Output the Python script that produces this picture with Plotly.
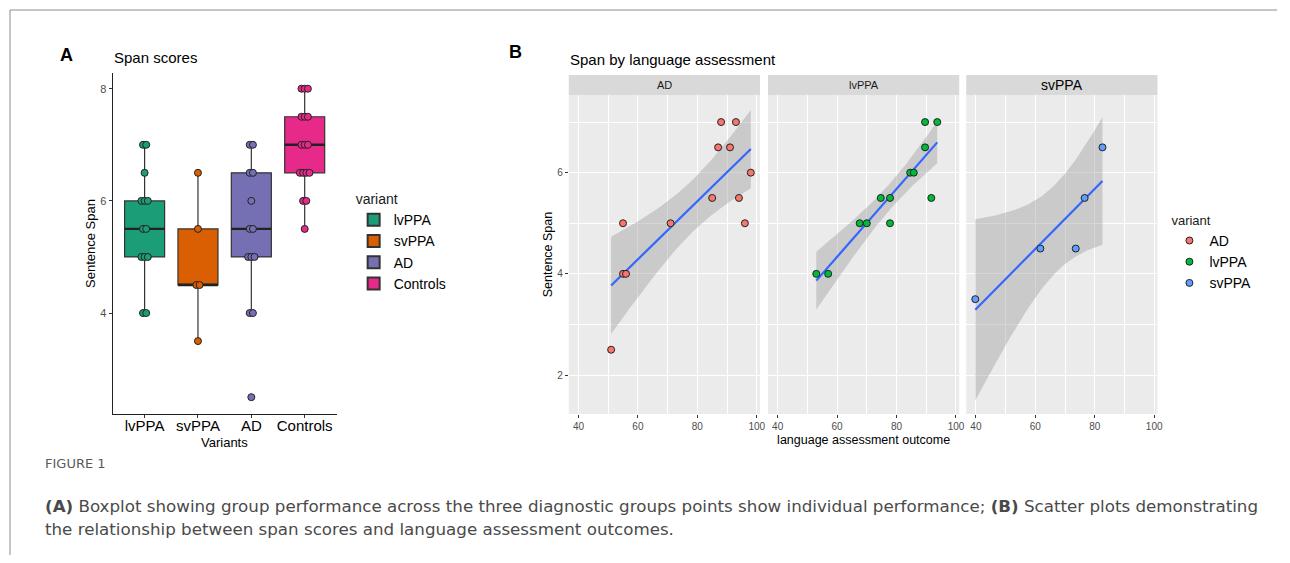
import numpy as np
import plotly.graph_objects as go

# page body has an 8px margin on every side; figure fills the rest of the 1290x563 window
OFF = 8
W, H = 1290 - 2 * OFF, 563 - 2 * OFF

# ---------------- DATA ----------------
# Panel A: sentence span per group
groups = ["lvPPA", "svPPA", "AD", "Controls"]
span_lvppa = [7, 7, 6.5, 6, 6, 6, 5.5, 5.5, 5, 5, 5, 4, 4]
span_svppa = [6.5, 5.5, 4.5, 4.5, 3.5]
span_ad = [7, 7, 6.5, 6.5, 6, 5.5, 5.5, 5, 5, 5, 4, 4, 2.5]
span_controls = [8, 8, 8, 7.5, 7.5, 7.5, 7, 7, 7, 6.5, 6.5, 6.5, 6.5, 6, 6, 5.5]
group_colors = ["#1B9E77", "#D95F02", "#7570B3", "#E7298A"]
yticks_a = [4, 6, 8]

# Panel B: language assessment outcome vs span, per variant
facets = ["AD", "lvPPA", "svPPA"]
ad_lang = [55, 55, 56, 51, 71, 85, 87, 88, 91, 93, 94, 96, 98]
ad_span = [5, 4, 4, 2.5, 5, 5.5, 6.5, 7, 6.5, 7, 5.5, 5, 6]
lv_lang = [53, 57, 67.6, 70, 74.7, 77.8, 77.8, 84.6, 85.8, 89.6, 89.6, 93.7, 91.7]
lv_span = [4, 4, 5, 5, 5.5, 5.5, 5, 6, 6, 6.5, 7, 7, 5.5]
sv_lang = [39.8, 61.7, 73.6, 76.6, 82.6]
sv_span = [3.5, 4.5, 4.5, 5.5, 6.5]
facet_colors = ["#F8766D", "#00BA38", "#619CFF"]
xticks_b = [40, 60, 80, 100]
yticks_b = [2, 4, 6]

# two-sided 95% t quantiles by degrees of freedom
t95 = {1: 12.706, 2: 4.303, 3: 3.182, 4: 2.776, 5: 2.571, 6: 2.447, 7: 2.365,
       8: 2.306, 9: 2.262, 10: 2.228, 11: 2.201, 12: 2.179, 13: 2.160, 14: 2.145}

caption_label = "FIGURE 1"
caption_1 = ("<b>(A)</b> Boxplot showing group performance across the three diagnostic groups points "
             "show individual performance; <b>(B)</b> Scatter plots demonstrating")
caption_2 = "the relationship between span scores and language assessment outcomes."


def fx(p):
    return (p - OFF) / W


def fy(p):
    return 1 - (p - OFF) / H


fig = go.Figure()

# ---------------- PANEL A ----------------
spans = [span_lvppa, span_svppa, span_ad, span_controls]
for i, (g, vals, col) in enumerate(zip(groups, spans, group_colors)):
    v = np.array(vals, dtype=float)
    q1, med, q3 = np.percentile(v, [25, 50, 75])
    iqr = q3 - q1
    lo = v[v >= q1 - 1.5 * iqr].min()
    hi = v[v <= q3 + 1.5 * iqr].max()
    fig.add_trace(go.Box(
        x=[i], q1=[q1], median=[med], q3=[q3], lowerfence=[lo], upperfence=[hi],
        width=0.75, whiskerwidth=0, fillcolor=col, line=dict(color="#333333", width=1.2),
        name=g, boxpoints=False, xaxis="x", yaxis="y", legend="legend", hoverinfo="skip"))
    # thicker median line
    fig.add_trace(go.Scatter(x=[i - 0.375, i + 0.375], y=[med, med], mode="lines",
                             line=dict(color="#222222", width=2.4), showlegend=False,
                             xaxis="x", yaxis="y", hoverinfo="skip"))
    # jittered individual points
    xs = []
    counts = {}
    for val in vals:
        counts[val] = counts.get(val, 0) + 1
    seen = {}
    for val in vals:
        k = seen.get(val, 0)
        seen[val] = k + 1
        m = counts[val]
        xs.append(i + (k - (m - 1) / 2) * 0.06)
    fig.add_trace(go.Scatter(x=xs, y=vals, mode="markers",
                             marker=dict(color=col, size=7, line=dict(color="#222222", width=1)),
                             showlegend=False, xaxis="x", yaxis="y", hoverinfo="skip"))

# ---------------- PANEL B ----------------
panel_px = [(571, 763), (771, 963), (970, 1162)]
data_b = [(ad_lang, ad_span), (lv_lang, lv_span), (sv_lang, sv_span)]
for j, (name, (xv, yv), col) in enumerate(zip(facets, data_b, facet_colors)):
    ax = "x%d" % (j + 2)
    ay = "y%d" % (j + 2)
    x = np.array(xv, dtype=float)
    y = np.array(yv, dtype=float)
    n = len(x)
    b, a = np.polyfit(x, y, 1)
    res = y - (a + b * x)
    s = np.sqrt((res ** 2).sum() / (n - 2))
    sxx = ((x - x.mean()) ** 2).sum()
    grid = np.linspace(x.min(), x.max(), 80)
    fit = a + b * grid
    se = s * np.sqrt(1 / n + (grid - x.mean()) ** 2 / sxx)
    t = t95[n - 2]
    up, dn = fit + t * se, fit - t * se
    fig.add_trace(go.Scatter(x=np.concatenate([grid, grid[::-1]]),
                             y=np.concatenate([up, dn[::-1]]), fill="toself",
                             fillcolor="rgba(153,153,153,0.4)", line=dict(width=0),
                             mode="lines", showlegend=False, xaxis=ax, yaxis=ay, hoverinfo="skip"))
    fig.add_trace(go.Scatter(x=grid, y=fit, mode="lines", line=dict(color="#3366FF", width=2.2),
                             showlegend=False, xaxis=ax, yaxis=ay, hoverinfo="skip"))
    fig.add_trace(go.Scatter(x=xv, y=yv, mode="markers", name=name,
                             marker=dict(color=col, size=7, line=dict(color="#222222", width=1)),
                             showlegend=True, legend="legend2", xaxis=ax, yaxis=ay))

# ---------------- LAYOUT ----------------
tick_font_a = dict(family="Liberation Sans", size=11, color="#4D4D4D")
layout = dict(
    width=W, height=H, margin=dict(l=0, r=0, t=0, b=0),
    paper_bgcolor="white", plot_bgcolor="rgba(0,0,0,0)",
    font=dict(family="Liberation Sans", color="#1A1A1A"),
    showlegend=True,
    xaxis=dict(domain=[fx(113), fx(338)], range=[-0.6, 3.6], anchor="y",
               tickvals=list(range(len(groups))), ticktext=groups,
               tickfont=dict(family="Liberation Sans", size=15, color="#000000"),
               showline=True, linecolor="#222222", linewidth=1, ticks="outside", ticklen=3,
               tickcolor="#333333", showgrid=False, zeroline=False, ticklabelstandoff=-5),
    yaxis=dict(domain=[fy(414), fy(73)], range=[2.2, 8.28], anchor="x",
               tickvals=yticks_a, tickfont=tick_font_a,
               showline=True, linecolor="#222222", linewidth=1, ticks="outside", ticklen=3,
               tickcolor="#333333", showgrid=False, zeroline=False,
               title=dict(text="Sentence Span", font=dict(size=13, color="#000000"), standoff=1)),
    legend=dict(x=fx(355), y=fy(186), xanchor="left", yanchor="top",
                title=dict(text="variant", font=dict(size=14, color="#1A1A1A")),
                font=dict(size=14, color="#000000"), bgcolor="rgba(0,0,0,0)",
                tracegroupgap=0, itemsizing="constant"),
    legend2=dict(x=fx(1174), y=fy(208), xanchor="left", yanchor="top",
                 title=dict(text="variant", font=dict(size=13, color="#1A1A1A")),
                 font=dict(size=14, color="#000000"), bgcolor="rgba(0,0,0,0)"),
)

shapes = []
annotations = []
for j, (p0, p1) in enumerate(panel_px):
    k = j + 2
    layout["xaxis%d" % k] = dict(
        domain=[fx(p0), fx(p1)], range=[36.75, 101.1], anchor="y%d" % k,
        tickvals=xticks_b, tickfont=dict(family="Liberation Sans", size=10, color="#4D4D4D"),
        showgrid=True, gridcolor="white", gridwidth=1.2, zeroline=False,
        minor=dict(dtick=10, tick0=0, showgrid=True, gridcolor="white", gridwidth=0.6),
        ticks="outside", ticklen=3, tickcolor="#333333", showline=False)
    layout["yaxis%d" % k] = dict(
        domain=[fy(414), fy(95)], range=[1.23, 7.535], anchor="x%d" % k,
        tickvals=yticks_b, showticklabels=(j == 0),
        tickfont=dict(family="Liberation Sans", size=10, color="#4D4D4D"),
        showgrid=True, gridcolor="white", gridwidth=1.2, zeroline=False,
        minor=dict(dtick=1, tick0=0, showgrid=True, gridcolor="white", gridwidth=0.6),
        ticks="outside" if j == 0 else "", ticklen=3, tickcolor="#333333", showline=False)
    shapes.append(dict(type="rect", xref="x%d domain" % k, yref="y%d domain" % k,
                       x0=0, x1=1, y0=0, y1=1, fillcolor="#EBEBEB", line=dict(width=0),
                       layer="below"))
    shapes.append(dict(type="rect", xref="paper", yref="paper", x0=fx(p0), x1=fx(p1),
                       y0=fy(95), y1=fy(75), fillcolor="#D9D9D9", line=dict(width=0),
                       layer="below"))
    annotations.append(dict(text=facets[j], xref="paper", yref="paper", x=fx((p0 + p1) / 2),
                            y=fy(85), showarrow=False, xanchor="center", yanchor="middle",
                            font=dict(size=14 if j == 2 else 11,
                                      color="#000000" if j == 2 else "#1A1A1A")))

layout["yaxis2"]["title"] = dict(text="Sentence Span", font=dict(size=12.5, color="#000000"), standoff=1)
layout["xaxis3"]["title"] = dict(text="language assessment outcome",
                                 font=dict(size=12.5, color="#000000"), standoff=4)

# frame lines
shapes.append(dict(type="line", xref="paper", yref="paper", x0=fx(10), x1=1, y0=fy(10), y1=fy(10),
                   line=dict(color="#8C8C8C", width=1)))
shapes.append(dict(type="line", xref="paper", yref="paper", x0=fx(10), x1=fx(10), y0=0, y1=fy(10),
                   line=dict(color="#8C8C8C", width=1)))

cap_font = "DejaVu Sans"
annotations += [
    dict(text="<b>A</b>", x=fx(58), y=fy(55), xanchor="left", yanchor="middle",
         font=dict(size=18, color="#000000")),
    dict(text="Span scores", x=fx(112), y=fy(58), xanchor="left", yanchor="middle",
         font=dict(size=15, color="#000000")),
    dict(text="Variants", x=fx(225.5), y=fy(442), xanchor="center", yanchor="middle",
         font=dict(size=13, color="#000000")),
    dict(text="<b>B</b>", x=fx(509), y=fy(52), xanchor="left", yanchor="middle",
         font=dict(size=18, color="#000000")),
    dict(text="Span by language assessment", x=fx(570), y=fy(60), xanchor="left", yanchor="middle",
         font=dict(size=15, color="#000000")),
    dict(text=caption_label, x=fx(43), y=fy(463), xanchor="left", yanchor="middle",
         font=dict(family=cap_font, size=13, color="#5A5A5A")),
    dict(text=caption_1, x=fx(43), y=fy(506), xanchor="left", yanchor="middle",
         font=dict(family=cap_font, size=16.7, color="#4A4A4A")),
    dict(text=caption_2, x=fx(43), y=fy(529), xanchor="left", yanchor="middle",
         font=dict(family=cap_font, size=16.7, color="#4A4A4A")),
]
for a in annotations:
    a.setdefault("xref", "paper")
    a.setdefault("yref", "paper")
    a.setdefault("showarrow", False)

layout["shapes"] = shapes
layout["annotations"] = annotations
fig.update_layout(**layout)
fig.write_html("out.html")
